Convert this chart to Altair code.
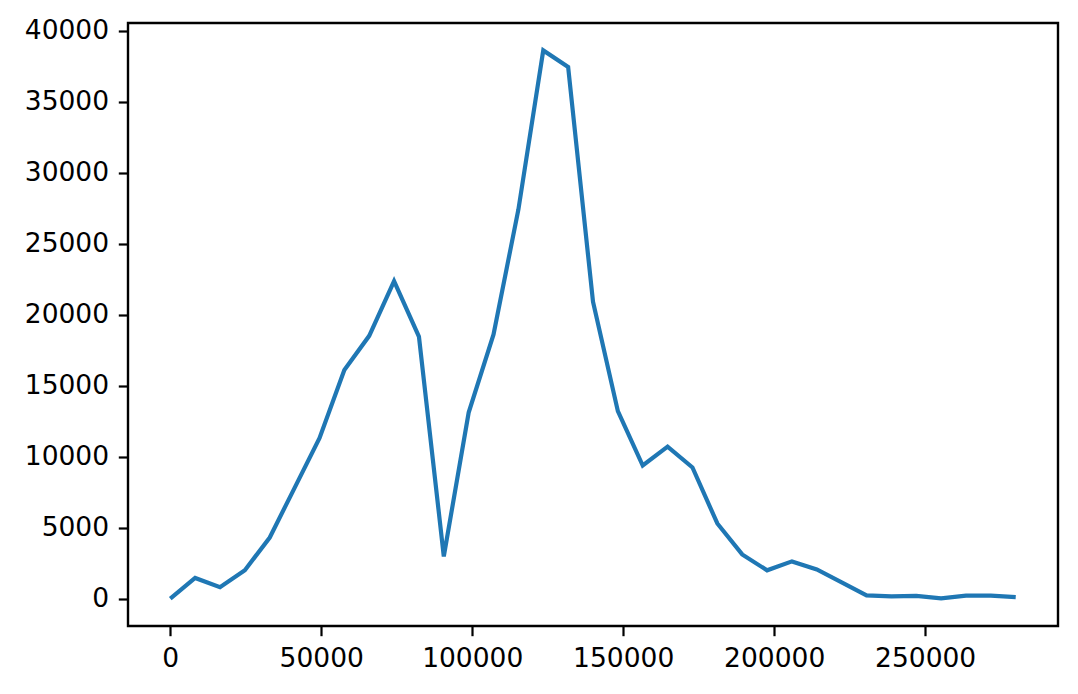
import altair as alt
import pandas as pd

x_values = [280000 * k / 34 for k in range(35)]
y_values = [0, 1450, 800, 2000, 4300, 7800, 11300, 16100, 18500, 22350,
            18450, 2970, 13100, 18600, 27400, 38600, 37440, 20900, 13200, 9370,
            10700, 9230, 5290, 3110, 1990, 2620, 2050, 1150, 230, 150,
            190, 20, 210, 210, 100]

x_ticks = [0, 50000, 100000, 150000, 200000, 250000]
y_ticks = [0, 5000, 10000, 15000, 20000, 25000, 30000, 35000, 40000]

df = pd.DataFrame({"x": x_values, "y": y_values})

font = "DejaVu Sans"
axis_common = dict(
    domain=False, grid=False, ticks=True, tickColor="black", tickWidth=2.2,
    tickSize=9.7, labelPadding=9.7, labelFont=font, labelFontSize=26.5,
    labelColor="black", format="d", title=None, labelOverlap=False,
)

chart = alt.Chart(df).mark_line(color="#1f77b4", strokeWidth=4.2).encode(
    x=alt.X("x:Q", scale=alt.Scale(domain=[-14000, 294000], nice=False, zero=False),
            axis=alt.Axis(values=x_ticks, **axis_common)),
    y=alt.Y("y:Q", scale=alt.Scale(domain=[-1930, 40530], nice=False, zero=False),
            axis=alt.Axis(values=y_ticks, **axis_common)),
).properties(
    width=930, height=603,
    autosize=alt.AutoSizeParams(type="none"),
    padding={"left": 120, "top": 15, "right": 12, "bottom": 60},
    background="white",
).configure_view(
    stroke="black", strokeWidth=2.4,
)

chart.save("out.html", embed_options={"renderer": "svg", "actions": False})
